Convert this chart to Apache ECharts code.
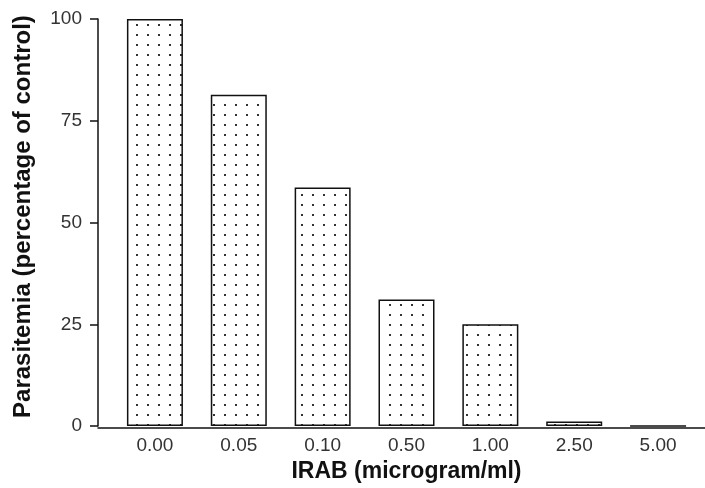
<!DOCTYPE html>
<html>
<head>
<meta charset="utf-8">
<script src="https://cdn.jsdelivr.net/npm/echarts@6/dist/echarts.min.js"></script>
<style>
html,body{margin:0;padding:0;background:#fff;}
#chart{width:705px;height:488px;}
</style>
</head>
<body>
<div id="chart"></div>
<script>
const categories = ['0.00', '0.05', '0.10', '0.50', '1.00', '2.50', '5.00'];
const parasitemia = [100, 81.4, 58.6, 31.1, 25.0, 1.1, 0];
const yTickValues = [0, 25, 50, 75, 100];
const xTitle = 'IRAB (microgram/ml)';
const yTitle = 'Parasitemia (percentage of control)';

// dotted fill pattern
const pc = document.createElement('canvas');
pc.width = 11; pc.height = 10;
const pctx = pc.getContext('2d');
pctx.fillStyle = '#fff';
pctx.fillRect(0, 0, 11, 10);
pctx.fillStyle = '#333';
pctx.fillRect(4, 4, 2, 2);

const chart = echarts.init(document.getElementById('chart'), null, {renderer: 'canvas'});
const font = 'Liberation Sans, Arial, sans-serif';
chart.setOption({
  animation: false,
  backgroundColor: '#fff',
  grid: [
    {left: 113, right: 5, top: 19, bottom: 60},
    {left: 98, right: 0, top: 19, bottom: 60}
  ],
  xAxis: [
    {
      type: 'category', gridIndex: 0, data: categories,
      axisLine: {show: false}, axisTick: {show: false},
      axisLabel: {color: '#333', fontSize: 19, fontFamily: font, margin: 10},
      name: xTitle, nameLocation: 'middle', nameGap: 31,
      nameTextStyle: {fontSize: 23, fontWeight: 'bold', color: '#111', fontFamily: font}
    },
    {
      type: 'value', gridIndex: 1, min: 0, max: 1,
      axisLine: {show: true, lineStyle: {color: '#111', width: 1.5}},
      axisTick: {show: false}, axisLabel: {show: false}, splitLine: {show: false}
    }
  ],
  yAxis: [
    {
      type: 'value', gridIndex: 0, min: yTickValues[0], max: yTickValues[yTickValues.length - 1],
      interval: yTickValues[1] - yTickValues[0], offset: 15,
      axisLine: {show: true, lineStyle: {color: '#111', width: 1.5}},
      axisTick: {show: true, length: 8, lineStyle: {color: '#111', width: 1.5}},
      axisLabel: {color: '#333', fontSize: 19, fontFamily: font, margin: 16},
      splitLine: {show: false},
      name: yTitle, nameLocation: 'middle', nameGap: 63, nameRotate: 90,
      nameTextStyle: {fontSize: 24, fontWeight: 'bold', color: '#111', fontFamily: font, padding: [0, 0, 0, 12]}
    },
    {type: 'value', gridIndex: 1, show: false, min: 0, max: 1}
  ],
  series: [{
    type: 'bar', xAxisIndex: 0, yAxisIndex: 0,
    data: parasitemia, barWidth: 56,
    itemStyle: {color: {image: pc, repeat: 'repeat'}, borderColor: '#111', borderWidth: 1.5}
  }]
});
</script>
</body>
</html>
